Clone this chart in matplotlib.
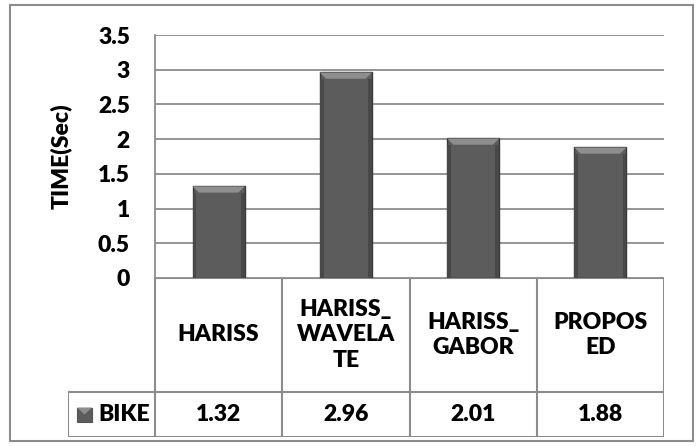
import matplotlib
matplotlib.use("Agg")
import matplotlib.pyplot as plt
from matplotlib.patches import Polygon, Rectangle
from matplotlib.lines import Line2D
import numpy as np

plt.rcParams['font.family'] = ['Lato', 'DejaVu Sans']
plt.rcParams['font.weight'] = 'heavy'

# data
methods = ['HARISS', 'HARISS_\nWAVELA\nTE', 'HARISS_\nGABOR', 'PROPOS\nED']
series_name = 'BIKE'
bike_times = [1.32, 2.96, 2.01, 1.88]
value_labels = ['1.32', '2.96', '2.01', '1.88']
y_ticks = [0, 0.5, 1, 1.5, 2, 2.5, 3, 3.5]
y_label = 'TIME(Sec)'

W, H = 697, 446
fig = plt.figure(figsize=(W / 100, H / 100), dpi=100)
fig.patch.set_facecolor('white')

def fx(px):
    return px / W

def fy(py):
    return 1 - py / H

# outer chart border
fig.add_artist(Rectangle((fx(10), fy(441)), fx(693) - fx(10), fy(5) - fy(441),
                         transform=fig.transFigure, fill=False,
                         edgecolor='#8c8c8c', linewidth=1.5))

plot_l, plot_r, plot_t, plot_b = 155, 664, 35, 278
ax = fig.add_axes([fx(plot_l), fy(plot_b), fx(plot_r) - fx(plot_l), fy(plot_t) - fy(plot_b)])
x = np.arange(len(methods))
bar_w = 0.41
ax.set_xlim(-0.5, len(methods) - 0.5)
ax.set_ylim(0, 3.5)
ax.set_yticks(y_ticks)
ax.set_yticklabels(['%g' % t for t in y_ticks], fontsize=16.5, fontweight='heavy')
ax.set_xticks([])
ax.tick_params(axis='y', length=0, pad=18)
ax.yaxis.grid(True, color='#8c8c8c', linewidth=1.3)
ax.set_axisbelow(True)
for side in ['top', 'right', 'bottom']:
    ax.spines[side].set_visible(False)
ax.spines['left'].set_color('#8c8c8c')
ax.spines['left'].set_linewidth(1.3)
ax.set_ylabel(y_label, fontsize=16.5, fontweight='heavy', labelpad=19)

# bevelled bars
ax.bar(x, bike_times, width=bar_w, color='#5c5c5c', edgecolor='#383838',
       linewidth=1.0, zorder=3)
bev_w = 0.05
bev_h = 0.09
for xi, v in zip(x, bike_times):
    l, r = xi - bar_w / 2, xi + bar_w / 2
    ax.add_patch(Polygon([(l, v), (r, v), (r - bev_w, v - bev_h), (l + bev_w, v - bev_h)],
                         closed=True, facecolor='#8e8e8e', edgecolor='none', zorder=4))
    ax.add_patch(Rectangle((l, 0), bev_w * 0.6, v - bev_h, facecolor='#484848',
                           edgecolor='none', zorder=4))
    ax.add_patch(Rectangle((r - bev_w * 0.6, 0), bev_w * 0.6, v - bev_h, facecolor='#484848',
                           edgecolor='none', zorder=4))

# data table below the plot
tab_l, tab_b = 68, 437
row_split = 392
tax = fig.add_axes([fx(tab_l), fy(tab_b), fx(plot_r) - fx(tab_l), fy(plot_b) - fy(tab_b)])
col_w = (plot_r - plot_l) / len(methods)
x0 = -0.5 - (plot_l - tab_l) / col_w
tax.set_xlim(x0, len(methods) - 0.5)
tax.set_ylim(tab_b, plot_b)
tax.axis('off')
lc = '#8c8c8c'
lw = 1.5
tax.add_line(Line2D([-0.5, len(methods) - 0.5], [plot_b, plot_b], color=lc, lw=lw))
tax.add_line(Line2D([x0, len(methods) - 0.5], [row_split, row_split], color=lc, lw=lw))
tax.add_line(Line2D([x0, len(methods) - 0.5], [tab_b, tab_b], color=lc, lw=lw))
tax.add_line(Line2D([x0, x0], [row_split, tab_b], color=lc, lw=lw))
for i in range(len(methods) + 1):
    tax.add_line(Line2D([i - 0.5, i - 0.5], [plot_b, tab_b], color=lc, lw=lw))

for i, (m, v) in enumerate(zip(methods, value_labels)):
    tax.text(i, (plot_b + row_split) / 2, m, ha='center', va='center', fontsize=16.5,
             fontweight='heavy', linespacing=1.25)
    tax.text(i, (row_split + tab_b) / 2, v, ha='center', va='center', fontsize=16.5,
             fontweight='heavy')

# legend key cell
key_x = x0 + 9 / col_w
key_w = 15 / col_w
key_mid = (row_split + tab_b) / 2
tax.add_patch(Rectangle((key_x, key_mid - 7), key_w, 14, facecolor='#5c5c5c',
                        edgecolor='#555555', lw=0.8))
tax.add_patch(Polygon([(key_x, key_mid - 7), (key_x + key_w, key_mid - 7),
                       (key_x + key_w / 2, key_mid)], closed=True,
                      facecolor='#8e8e8e', edgecolor='none'))
tax.text(key_x + key_w + 6 / col_w, key_mid, series_name, ha='left', va='center',
         fontsize=16.5, fontweight='heavy')

fig.savefig('out.png', dpi=100)
